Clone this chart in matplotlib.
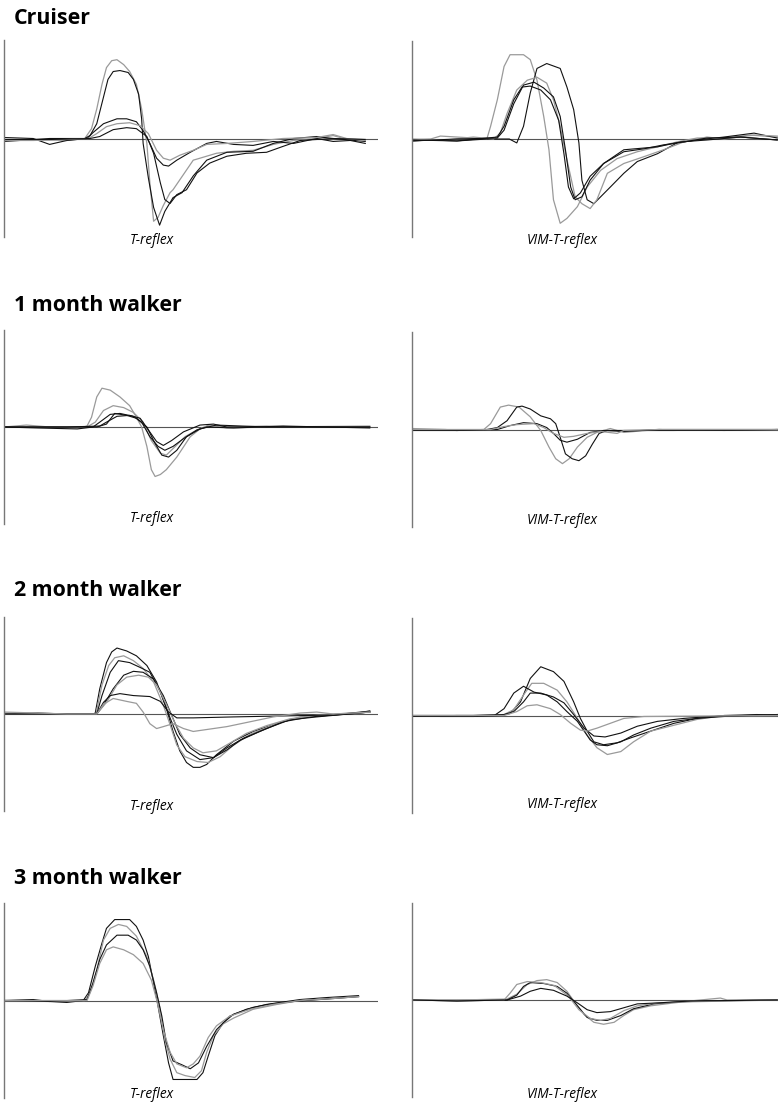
import matplotlib
matplotlib.use("Agg")
import matplotlib.pyplot as plt

# time in ms, amplitude in mV (normalised), traces
groups = ["Cruiser", "1 month walker", "2 month walker", "3 month walker"]
conditions = ["T-reflex", "VIM-T-reflex"]

cruiser_t = [
    [(0,-0.02),(3.9,-0.01),(8.4,-0.02),(10.8,0.0),(11.7,0.10),(12.4,0.30),(13.1,0.55),(13.7,0.72),(14.4,0.79),(15.1,0.80),(16.0,0.75),(16.8,0.68),(17.7,0.55),(18.4,0.30),(19.1,-0.05),(19.5,-0.45),(20.0,-0.84),(20.6,-0.80),(21.3,-0.68),(22.2,-0.55),(22.6,-0.52),(23.5,-0.42),(24.4,-0.32),(25.3,-0.22),(26.2,-0.20),(28.4,-0.15),(30.7,-0.13),(33.3,-0.12),(36.0,-0.06),(38.7,-0.02),(41.8,0.0),(44.0,0.03),(45.4,0.0),(48.3,-0.01)],
    [(0,-0.03),(2.1,-0.02),(6.1,0.0),(10.8,0.0),(11.5,0.03),(12.4,0.15),(13.3,0.42),(13.9,0.60),(14.6,0.68),(15.5,0.69),(16.6,0.67),(17.3,0.60),(18.0,0.45),(18.4,0.20),(18.6,-0.05),(19.3,-0.40),(20.0,-0.70),(20.8,-0.88),(21.5,-0.74),(22.6,-0.60),(23.8,-0.55),(25.3,-0.38),(27.1,-0.22),(29.8,-0.14),(33.3,-0.13),(36.0,-0.05),(38.7,0.0),(41.8,0.02),(44.0,0.0),(48.3,-0.03)],
    [(0,0.01),(3.9,0.0),(6.1,-0.06),(8.4,-0.02),(11.1,0.0),(11.9,0.06),(13.3,0.15),(15.1,0.20),(16.4,0.20),(17.7,0.17),(18.6,0.08),(19.5,-0.05),(20.4,-0.20),(21.3,-0.27),(22.0,-0.28),(23.1,-0.22),(24.9,-0.14),(27.1,-0.05),(28.4,-0.03),(30.7,-0.06),(33.3,-0.07),(36.0,-0.03),(38.7,-0.05),(41.8,0.0),(44.0,-0.03),(46.3,-0.02),(48.3,-0.05)],
    [(0,-0.02),(3.9,-0.02),(8.4,-0.01),(11.3,0.0),(12.4,0.05),(13.7,0.12),(15.1,0.15),(16.8,0.16),(18.2,0.13),(19.3,0.05),(20.4,-0.12),(21.3,-0.20),(22.2,-0.22),(23.5,-0.17),(25.3,-0.12),(27.1,-0.06),(29.8,-0.05),(33.3,-0.03),(37.3,0.0),(41.8,0.01),(44.0,0.04),(45.8,0.0),(48.3,-0.02)],
    [(0,-0.01),(6.1,-0.01),(11.5,0.0),(12.8,0.02),(14.6,0.09),(16.4,0.11),(17.7,0.10),(19.1,0.02),(20.0,-0.15),(20.9,-0.45),(21.5,-0.62),(22.2,-0.66),(23.1,-0.57),(24.4,-0.52),(25.8,-0.35),(27.5,-0.25),(29.8,-0.18),(32.4,-0.15),(35.1,-0.14),(37.3,-0.08),(39.6,-0.02),(44.0,0.0),(48.3,-0.01)],
]
cruiser_t_shade = ["gray", "black", "black", "gray", "black"]

cruiser_vim = [
    [(0,-0.01),(2.5,0.0),(3.8,0.03),(6.0,0.02),(8.2,0.01),(10.0,0.0),(10.5,0.13),(11.4,0.40),(12.3,0.74),(13.1,0.86),(14.9,0.86),(15.8,0.81),(16.7,0.60),(17.6,0.23),(18.3,-0.11),(18.9,-0.62),(19.8,-0.86),(20.7,-0.81),(22.1,-0.69),(23.4,-0.49),(25.2,-0.32),(27.4,-0.20),(30.1,-0.13),(32.8,-0.08),(35.4,-0.03),(38.1,0.01),(41.7,0.01),(45.2,0.04),(48.8,0.02)],
    [(0,-0.02),(2.5,-0.01),(6.0,-0.02),(10.0,0.0),(13.0,0.0),(14.0,-0.04),(14.9,0.13),(15.8,0.47),(16.7,0.72),(18.0,0.77),(19.8,0.72),(20.7,0.53),(21.6,0.30),(22.3,-0.04),(22.7,-0.42),(23.4,-0.62),(24.3,-0.66),(25.2,-0.59),(26.5,-0.49),(28.3,-0.35),(30.1,-0.23),(32.8,-0.15),(35.4,-0.04),(38.1,-0.01),(41.7,0.02),(45.7,0.06),(48.8,0.01)],
    [(0,0.0),(4.5,-0.01),(8.2,0.02),(10.9,0.0),(11.8,0.06),(12.7,0.26),(14.0,0.50),(15.4,0.60),(16.7,0.63),(18.0,0.57),(18.9,0.40),(19.8,0.13),(20.7,-0.21),(21.8,-0.59),(22.7,-0.66),(23.8,-0.71),(24.7,-0.62),(26.1,-0.35),(28.3,-0.25),(31.0,-0.18),(33.6,-0.11),(36.3,-0.03),(39.4,0.02),(41.7,0.0),(45.7,0.04),(48.8,0.03)],
    [(0,-0.01),(6.0,-0.02),(11.4,0.02),(12.3,0.13),(13.6,0.40),(14.7,0.53),(15.8,0.54),(17.2,0.50),(18.5,0.40),(19.6,0.19),(20.3,-0.15),(20.9,-0.49),(21.6,-0.61),(22.5,-0.55),(23.8,-0.38),(25.6,-0.25),(28.3,-0.13),(31.0,-0.10),(33.6,-0.06),(36.3,-0.03),(39.4,0.01),(43.9,0.02),(48.8,-0.01)],
    [(0,-0.02),(6.0,0.0),(11.4,0.01),(12.3,0.09),(13.6,0.36),(14.9,0.55),(16.3,0.58),(17.6,0.52),(18.9,0.43),(19.8,0.23),(20.5,-0.11),(21.2,-0.49),(21.8,-0.62),(22.7,-0.59),(23.8,-0.42),(25.6,-0.25),(28.3,-0.11),(32.8,-0.08),(35.9,-0.03),(39.4,-0.01),(43.9,0.02),(48.8,-0.01)],
]
cruiser_vim_shade = ["gray", "black", "gray", "black", "black"]

walker1_t = [
    [(0,0.0),(3.0,0.02),(6.1,0.0),(10.2,-0.01),(11.1,0.01),(11.7,0.10),(12.4,0.31),(13.1,0.40),(14.2,0.38),(15.5,0.31),(16.8,0.22),(17.7,0.10),(18.4,0.0),(19.1,-0.20),(19.7,-0.44),(20.2,-0.51),(20.9,-0.49),(21.7,-0.44),(23.1,-0.31),(24.9,-0.10),(26.2,-0.02),(27.5,0.02),(29.8,0.0),(35.1,0.01),(39.6,0.0),(48.9,0.0)],
    [(0,0.0),(8.4,0.0),(11.1,0.0),(12.2,0.05),(13.3,0.17),(14.6,0.22),(16.0,0.20),(17.3,0.15),(18.6,0.05),(19.7,-0.14),(20.9,-0.27),(21.7,-0.29),(22.9,-0.20),(24.2,-0.10),(25.8,-0.03),(27.5,0.02),(29.8,-0.01),(35.1,0.0),(48.9,0.01)],
    [(0,0.0),(4.5,-0.01),(9.8,-0.02),(11.9,0.0),(12.8,0.05),(14.2,0.13),(15.5,0.14),(17.3,0.11),(18.4,0.05),(19.5,-0.10),(20.6,-0.20),(21.5,-0.24),(22.6,-0.20),(24.0,-0.12),(25.8,-0.03),(27.1,0.0),(30.7,-0.01),(37.3,0.01),(48.9,-0.01)],
    [(0,0.0),(8.4,0.0),(12.4,0.0),(13.7,0.03),(14.8,0.14),(16.4,0.12),(17.7,0.09),(19.1,0.0),(20.2,-0.17),(21.1,-0.29),(22.0,-0.31),(23.1,-0.24),(24.4,-0.10),(26.2,-0.02),(28.4,0.02),(35.1,0.0),(48.9,0.0)],
    [(0,0.0),(8.4,0.0),(12.8,0.01),(13.7,0.05),(15.1,0.11),(16.8,0.12),(18.2,0.09),(19.3,-0.03),(20.4,-0.15),(21.3,-0.19),(22.4,-0.14),(24.0,-0.05),(26.2,0.02),(28.0,0.03),(29.8,0.0),(48.9,0.0)],
]
walker1_t_shade = ["gray", "gray", "black", "black", "black"]

walker1_vim = [
    [(0,0.01),(4.5,0.0),(6.0,-0.01),(9.6,0.0),(10.5,0.06),(11.8,0.23),(12.9,0.25),(14.3,0.23),(15.8,0.13),(17.2,-0.01),(18.3,-0.18),(19.2,-0.30),(20.1,-0.35),(21.0,-0.30),(22.1,-0.18),(23.4,-0.08),(24.7,-0.03),(26.5,0.01),(28.3,-0.03),(32.8,0.0),(40.0,0.0),(48.8,0.0)],
    [(0,-0.01),(6.0,-0.01),(10.0,0.0),(11.4,0.02),(12.7,0.09),(14.0,0.23),(14.7,0.24),(15.8,0.21),(17.2,0.14),(18.5,0.11),(19.2,0.06),(19.8,-0.08),(20.5,-0.25),(21.4,-0.30),(22.3,-0.32),(23.2,-0.27),(24.1,-0.15),(25.0,-0.04),(26.1,-0.01),(28.3,-0.01),(35.0,-0.01),(48.8,0.0)],
    [(0,0.0),(6.0,-0.01),(11.4,0.0),(13.1,0.04),(14.9,0.07),(16.7,0.06),(18.0,0.02),(18.9,-0.04),(19.8,-0.11),(20.7,-0.13),(22.1,-0.10),(23.8,-0.03),(25.6,-0.01),(28.3,-0.02),(33.0,0.0),(41.7,-0.01),(48.8,0.0)],
    [(0,0.0),(10.5,0.0),(12.3,0.03),(14.0,0.05),(16.3,0.06),(17.6,0.02),(18.9,-0.04),(20.3,-0.08),(21.6,-0.07),(23.4,-0.04),(25.2,-0.02),(27.4,-0.04),(28.3,-0.01),(33.0,0.0),(48.8,0.0)],
]
walker1_vim_shade = ["gray", "black", "black", "gray"]

walker2_t = [
    [(0,0.0),(4.5,0.01),(8.4,0.0),(11.9,0.0),(12.2,0.01),(12.8,0.26),(13.7,0.53),(14.4,0.64),(15.1,0.68),(16.4,0.65),(17.7,0.60),(19.1,0.50),(20.4,0.33),(21.7,0.06),(22.6,-0.18),(23.5,-0.38),(24.4,-0.50),(25.3,-0.55),(26.2,-0.55),(27.1,-0.52),(28.4,-0.42),(30.7,-0.28),(33.3,-0.18),(36.0,-0.11),(38.7,-0.05),(41.8,-0.02),(46.3,0.0),(48.9,0.03)],
    [(0,0.01),(8.4,0.0),(12.3,0.0),(13.1,0.30),(14.0,0.50),(14.8,0.58),(16.0,0.60),(17.3,0.55),(18.6,0.47),(20.0,0.33),(21.3,0.09),(22.2,-0.11),(23.1,-0.32),(24.2,-0.44),(25.8,-0.49),(27.3,-0.50),(28.9,-0.44),(30.7,-0.32),(32.9,-0.21),(36.0,-0.11),(39.6,-0.03),(44.0,-0.01),(48.9,0.02)],
    [(0,0.0),(8.4,0.0),(12.4,0.0),(13.1,0.19),(14.2,0.43),(15.3,0.55),(16.8,0.53),(18.2,0.48),(19.5,0.43),(20.9,0.23),(22.2,-0.04),(23.1,-0.21),(24.4,-0.38),(26.2,-0.47),(28.0,-0.45),(29.8,-0.35),(32.0,-0.25),(35.1,-0.15),(38.2,-0.06),(41.8,-0.03),(48.9,0.02)],
    [(0,0.0),(8.4,0.0),(12.4,0.0),(13.3,0.09),(14.6,0.26),(16.0,0.40),(17.3,0.44),(18.6,0.43),(20.0,0.36),(21.3,0.19),(22.4,-0.01),(23.5,-0.21),(24.9,-0.35),(26.2,-0.42),(28.0,-0.45),(29.8,-0.37),(31.6,-0.27),(34.2,-0.18),(37.3,-0.08),(40.9,-0.03),(48.9,0.02)],
    [(0,0.0),(8.4,0.0),(12.4,0.0),(13.7,0.12),(15.1,0.30),(16.4,0.38),(18.0,0.40),(19.3,0.38),(20.4,0.30),(21.7,0.10),(22.9,-0.10),(24.0,-0.25),(25.3,-0.35),(26.6,-0.40),(28.4,-0.38),(30.2,-0.30),(32.4,-0.20),(35.1,-0.12),(38.2,-0.05),(42.0,-0.01),(48.9,0.02)],
    [(0,0.0),(8.4,0.0),(12.4,0.0),(13.3,0.12),(14.2,0.19),(15.5,0.21),(17.3,0.19),(19.5,0.18),(20.9,0.13),(22.0,0.02),(23.1,-0.04),(25.3,-0.04),(30.7,-0.03),(37.3,-0.02),(44.0,-0.01),(48.9,0.03)],
    [(0,0.02),(4.5,0.01),(8.4,0.0),(12.4,0.0),(13.3,0.10),(14.6,0.16),(16.4,0.13),(17.7,0.11),(18.6,0.02),(19.5,-0.10),(20.4,-0.15),(21.3,-0.13),(22.6,-0.10),(24.0,-0.15),(25.3,-0.18),(27.1,-0.16),(29.8,-0.13),(32.9,-0.08),(36.0,-0.03),(39.6,0.01),(41.8,0.02),(44.0,0.0),(48.9,0.02)],
]
walker2_t_shade = ["black", "gray", "black", "black", "gray", "black", "gray"]

walker2_vim = [
    [(0,0.0),(3.8,-0.01),(8.2,-0.01),(11.8,0.0),(13.1,0.02),(14.5,0.14),(15.8,0.38),(17.2,0.50),(18.9,0.45),(20.3,0.35),(21.6,0.14),(22.5,-0.03),(23.4,-0.16),(24.3,-0.27),(25.6,-0.30),(27.4,-0.28),(29.2,-0.23),(31.9,-0.16),(35.0,-0.08),(38.1,-0.03),(41.7,0.0),(46.1,0.01),(48.8,0.0)],
    [(0,0.0),(8.2,0.0),(12.3,0.01),(13.6,0.06),(14.9,0.21),(16.0,0.33),(17.6,0.33),(19.4,0.26),(20.7,0.14),(22.1,-0.03),(23.4,-0.20),(24.7,-0.33),(26.1,-0.40),(27.9,-0.37),(29.6,-0.27),(31.9,-0.16),(35.0,-0.10),(38.1,-0.04),(41.7,0.0),(48.8,0.0)],
    [(0,-0.01),(6.0,0.0),(11.0,0.0),(12.3,0.07),(13.6,0.23),(14.9,0.30),(16.3,0.24),(18.0,0.21),(19.4,0.14),(20.7,0.04),(22.1,-0.06),(23.0,-0.16),(23.8,-0.25),(24.7,-0.30),(26.1,-0.31),(27.9,-0.27),(29.6,-0.20),(31.9,-0.13),(35.0,-0.06),(38.1,-0.03),(41.7,-0.01),(48.8,0.01)],
    [(0,0.0),(8.2,0.0),(12.3,0.01),(13.6,0.04),(14.9,0.14),(15.8,0.23),(17.2,0.23),(18.9,0.19),(20.3,0.13),(21.6,0.01),(23.0,-0.13),(24.3,-0.21),(25.8,-0.22),(27.9,-0.18),(30.1,-0.11),(32.8,-0.06),(36.3,-0.03),(39.9,-0.01),(48.8,0.01)],
    [(0,0.0),(8.2,0.0),(12.3,0.0),(14.0,0.04),(15.4,0.10),(16.7,0.11),(18.5,0.07),(19.8,0.01),(21.2,-0.08),(22.5,-0.15),(23.4,-0.16),(24.7,-0.13),(26.5,-0.08),(28.3,-0.03),(31.0,-0.01),(48.8,0.0)],
]
walker2_vim_shade = ["black", "gray", "black", "black", "gray"]

walker3_t = [
    [(0,0.0),(3.9,0.01),(6.1,-0.01),(8.4,-0.02),(10.6,0.0),(11.3,0.08),(12.2,0.35),(13.1,0.59),(13.7,0.74),(14.8,0.83),(16.8,0.83),(17.7,0.76),(18.6,0.62),(19.3,0.45),(20.0,0.18),(20.6,-0.06),(21.3,-0.36),(22.0,-0.64),(22.6,-0.81),(25.8,-0.81),(26.6,-0.74),(27.3,-0.57),(28.2,-0.36),(29.3,-0.23),(30.7,-0.14),(33.3,-0.07),(36.0,-0.03),(39.6,0.01),(43.1,0.03),(47.4,0.05)],
    [(0,0.0),(6.1,-0.01),(10.8,0.0),(11.5,0.08),(12.4,0.31),(13.3,0.62),(14.2,0.74),(15.3,0.78),(16.4,0.76),(17.7,0.66),(19.1,0.45),(20.0,0.21),(20.8,-0.06),(21.5,-0.40),(22.2,-0.60),(23.1,-0.74),(24.2,-0.77),(25.5,-0.79),(26.4,-0.72),(27.1,-0.53),(28.0,-0.36),(29.3,-0.24),(30.7,-0.18),(33.3,-0.09),(36.5,-0.04),(39.6,0.0),(47.4,0.04)],
    [(0,0.0),(6.1,-0.01),(11.1,0.01),(11.9,0.18),(12.8,0.42),(13.7,0.57),(15.1,0.67),(16.6,0.67),(17.7,0.62),(18.6,0.52),(19.5,0.35),(20.4,0.08),(21.1,-0.16),(21.7,-0.43),(22.6,-0.62),(23.8,-0.66),(24.9,-0.70),(26.0,-0.64),(27.1,-0.47),(28.4,-0.30),(30.2,-0.16),(32.4,-0.09),(35.1,-0.04),(38.7,-0.01),(44.0,0.02),(47.4,0.04)],
    [(0,0.0),(6.1,0.0),(11.1,0.0),(11.9,0.15),(12.8,0.38),(13.7,0.52),(14.6,0.55),(16.0,0.52),(17.3,0.47),(18.6,0.38),(19.7,0.21),(20.4,0.01),(21.3,-0.30),(22.2,-0.53),(23.1,-0.65),(24.4,-0.69),(25.3,-0.65),(26.2,-0.57),(27.3,-0.38),(28.4,-0.26),(30.2,-0.16),(32.9,-0.09),(36.0,-0.04),(39.6,0.0),(44.0,0.02),(47.4,0.04)],
]
walker3_t_shade = ["black", "gray", "black", "gray"]

walker3_vim = [
    [(0,0.0),(6.0,0.0),(12.7,0.01),(14.0,0.06),(15.4,0.16),(16.7,0.20),(18.0,0.21),(19.4,0.18),(20.7,0.09),(21.8,-0.03),(23.0,-0.15),(24.3,-0.23),(25.6,-0.25),(27.0,-0.23),(28.3,-0.16),(29.6,-0.10),(31.9,-0.06),(35.0,-0.03),(37.2,-0.01),(41.2,0.02),(42.1,0.0),(48.8,0.0)],
    [(0,0.0),(6.0,-0.01),(12.7,0.0),(14.0,0.05),(14.9,0.14),(15.8,0.18),(17.6,0.17),(19.4,0.14),(20.7,0.07),(22.1,-0.06),(23.4,-0.18),(24.7,-0.21),(26.1,-0.21),(27.9,-0.16),(29.6,-0.09),(32.3,-0.04),(35.4,-0.02),(39.4,-0.01),(48.8,0.0)],
    [(0,0.0),(6.0,0.0),(12.3,0.0),(13.1,0.07),(14.0,0.16),(15.4,0.19),(17.2,0.18),(19.0,0.15),(20.9,0.04),(22.3,-0.10),(23.8,-0.19),(25.2,-0.21),(26.5,-0.19),(28.3,-0.11),(30.1,-0.06),(32.8,-0.03),(36.3,-0.02),(48.8,0.0)],
    [(0,0.0),(6.0,-0.01),(12.7,0.0),(14.5,0.04),(15.8,0.09),(17.2,0.12),(18.9,0.10),(20.7,0.04),(22.1,-0.03),(23.4,-0.10),(24.7,-0.13),(26.5,-0.12),(28.3,-0.08),(30.1,-0.04),(32.8,-0.03),(37.2,-0.01),(48.8,0.0)],
]
walker3_vim_shade = ["gray", "black", "gray", "black"]

panels = [
    [(cruiser_t, cruiser_t_shade), (cruiser_vim, cruiser_vim_shade)],
    [(walker1_t, walker1_t_shade), (walker1_vim, walker1_vim_shade)],
    [(walker2_t, walker2_t_shade), (walker2_vim, walker2_vim_shade)],
    [(walker3_t, walker3_t_shade), (walker3_vim, walker3_vim_shade)],
]

W, H = 778, 1103
fig = plt.figure(figsize=(W / 100, H / 100), dpi=100)


def box(left, top, right, bottom):
    return [left / W, 1 - bottom / H, (right - left) / W, (bottom - top) / H]


# pixel layout of the panels: (left, top, right, bottom)
boxes = [
    [(4, 40, 378, 237), (412, 41, 778, 237)],
    [(4, 330, 378, 524), (412, 332, 778, 527)],
    [(4, 617, 378, 811), (412, 618, 778, 813)],
    [(4, 903, 378, 1098), (412, 903, 778, 1097)],
]
title_y = [19, 306, 591, 878]
label_y = [[241, 241], [519, 520], [807, 805], [1094, 1094]]
label_x = [152, 562]
xmax = [50.0, 48.9]
colours = {"black": "#111111", "gray": "#9a9a9a"}

for r, row in enumerate(panels):
    fig.text(14 / W, 1 - title_y[r] / H, groups[r], ha="left", va="center",
             fontsize=15.4, fontweight="bold", family="Open Sans")
    for c, (traces, shades) in enumerate(row):
        ax = fig.add_axes(box(*boxes[r][c]))
        ax.axhline(0, color="#555555", lw=0.8, zorder=1)
        for tr, sh in zip(traces, shades):
            t, a = zip(*tr)
            ax.plot(t, a, color=colours[sh], lw=0.9 if sh == "gray" else 0.8, zorder=2)
        ax.set_xlim(0, xmax[c])
        ax.set_ylim(-1, 1)
        ax.set_xticks([])
        ax.set_yticks([])
        for s in ["top", "right", "bottom"]:
            ax.spines[s].set_visible(False)
        ax.spines["left"].set_color("#777777")
        ax.spines["left"].set_linewidth(1.0)
        ax.patch.set_alpha(0)
        fig.text(label_x[c] / W, 1 - label_y[r][c] / H, conditions[c], ha="center",
                 va="center", fontsize=9.8, style="italic", family="Open Sans")

fig.savefig("out.png", dpi=100)
